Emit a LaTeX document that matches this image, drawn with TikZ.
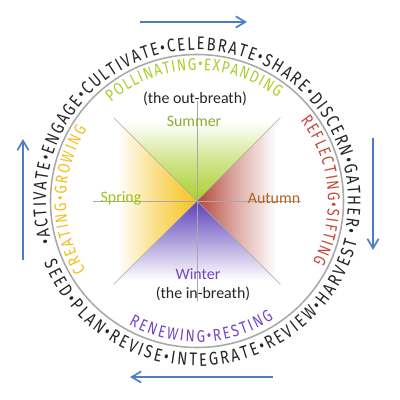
\documentclass[tikz,border=0pt]{standalone}
\usepackage{fontspec}
\setmainfont{Carlito}
\newfontfamily\ringfont[FakeStretch=0.8]{Fira Sans}
\usetikzlibrary{arrows.meta,decorations.text}
\definecolor{leaf}{HTML}{AACF2C}
\definecolor{leafdark}{HTML}{8CAE2C}
\definecolor{sprout}{HTML}{9CC417}
\definecolor{ember}{HTML}{B4473A}
\definecolor{emberink}{HTML}{C4473A}
\definecolor{rust}{HTML}{B0641E}
\definecolor{dusk}{HTML}{5C40BA}
\definecolor{duskink}{HTML}{7446C4}
\definecolor{sun}{HTML}{F6C21C}
\definecolor{sunink}{HTML}{F2BE1E}
\definecolor{flow}{HTML}{4A7DC6}
\definecolor{pencil}{HTML}{A8A8A8}
\definecolor{ink}{HTML}{262626}
\begin{document}
\begin{tikzpicture}[x=0.025cm,y=0.025cm,
  season/.style={font=\fontsize{11.3}{13}\selectfont,inner sep=0pt},
  ring/.style={decorate,decoration={text along path,text align={fit to path},text color=#1}},
  spoke/.style={pencil,line width=0.5pt},
  flowarrow/.style={-{Straight Barb[length=2.4mm,width=2.8mm]},flow,line width=1.2pt}]
\useasboundingbox (-197,-199) rectangle (203,201);
\coordinate (hub) at (0,0);
% four seasons, fading outwards
\path[top color=white,bottom color=leaf,middle color=leaf!55] (hub) -- (135:112) -- (45:112) -- cycle;
\path[left color=ember,right color=white,middle color=ember!45] (hub) -- (45:112) -- (-45:112) -- cycle;
\path[top color=dusk,bottom color=white,middle color=dusk!50] (hub) -- (-45:112) -- (-135:112) -- cycle;
\path[left color=white,right color=sun,middle color=sun!55] (hub) -- (-135:112) -- (135:112) -- cycle;
\foreach \a/\r in {0/104,45/118,90/100,135/118}
  \draw[spoke] (\a:\r) -- (\a+180:\r);
\draw[pencil,line width=1.1pt] (hub) circle[radius=146.5];
% outer ring of verbs
\path[ring=ink,decoration={text={|\ringfont\fontsize{13}{15}\selectfont|•ACTIVATE•ENGAGE•CULTIVATE•CELEBRATE•SHARE•DISCERN•GATHER•}}]
  (196:151) arc[start angle=196,end angle=-12,radius=151];
\path[ring=ink,decoration={text={|\ringfont\fontsize{13}{15}\selectfont|SEED•PLAN•REVISE•INTEGRATE•REVIEW•HARVEST}}]
  (202:165) arc[start angle=202,end angle=346,radius=165];
% inner ring of phases
\path[ring=leaf,decoration={text={|\ringfont\fontsize{12}{14}\selectfont|POLLINATING•EXPANDING}}]
  (131:131) arc[start angle=131,end angle=52,radius=131];
\path[ring=emberink,decoration={text={|\ringfont\fontsize{12}{14}\selectfont|REFLECTING•SIFTING}}]
  (38:131) arc[start angle=38,end angle=-28,radius=131];
\path[ring=duskink,decoration={text={|\ringfont\fontsize{12}{14}\selectfont|RENEWING•RESTING}}]
  (241:141) arc[start angle=241,end angle=303,radius=141];
\path[ring=sunink,decoration={text={|\ringfont\fontsize{12}{14}\selectfont|CREATING•GROWING}}]
  (212:131) arc[start angle=212,end angle=147,radius=131];
% labels
\node[season,text=ink] (outbreath) at (-2,102) {(the out-breath)};
\node[season,text=leafdark] (summer) at (-3,80) {Summer};
\node[season,text=sprout] (spring) at (-76,3) {Spring};
\node[season,text=rust] (autumn) at (77,3) {Autumn};
\node[season,text=duskink] (winter) at (1,-73) {Winter};
\node[season,text=ink] (inbreath) at (6,-93) {(the in-breath)};
% direction of the cycle
\coordinate (topL) at (-57,179); \coordinate (topR) at (50,179);
\coordinate (rightT) at (176,63); \coordinate (rightB) at (176,-49);
\coordinate (botR) at (76,-176); \coordinate (botL) at (-67,-176);
\coordinate (leftB) at (-174,-59); \coordinate (leftT) at (-174,62);
\draw[flowarrow] (topL) -- (topR);
\draw[flowarrow] (rightT) -- (rightB);
\draw[flowarrow] (botR) -- (botL);
\draw[flowarrow] (leftB) -- (leftT);
\end{tikzpicture}
\end{document}
